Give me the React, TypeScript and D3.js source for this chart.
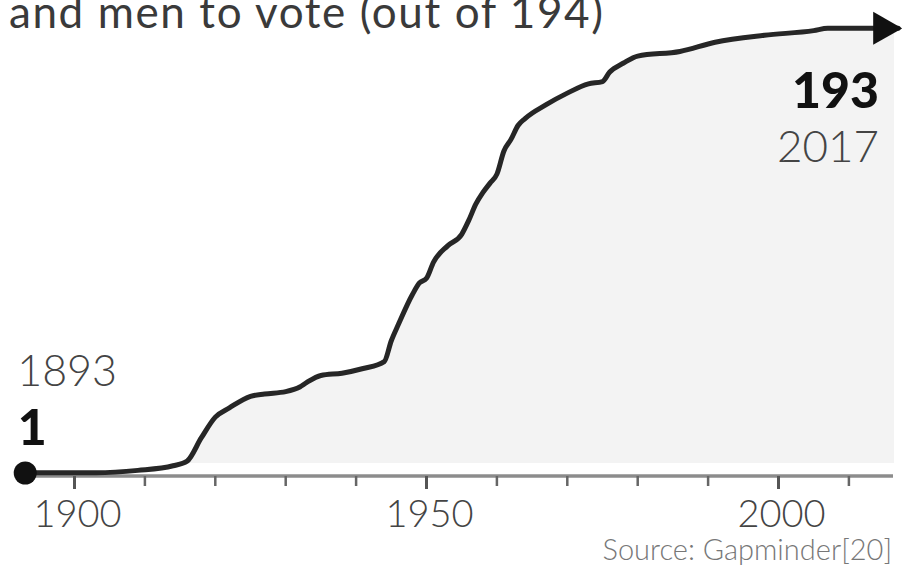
import React from "react";
import * as d3 from "d3";

const years = [1893, 1903, 1909, 1914, 1916, 1918, 1920, 1922, 1925, 1927, 1930, 1932, 1933, 1935, 1938, 1941, 1944, 1945, 1946, 1948, 1949, 1950, 1951, 1953, 1955, 1956, 1957, 1958, 1959, 1960, 1961, 1962, 1963, 1964, 1967, 1970, 1973, 1975, 1976, 1978, 1980, 1986, 1991, 1998, 2005, 2007, 2017];
const countries = [1, 1, 2, 4, 6, 16, 25, 29, 34, 35, 36, 38, 40, 43, 44, 46, 49, 58, 65, 78, 83, 85, 92, 99, 104, 110, 117, 122, 126, 130, 140, 145, 151, 154, 160, 165, 169, 170, 174, 178, 181, 183, 187, 190, 192, 193, 193];
const majorTicks = [1900, 1950, 2000];
const minorTicks = [1910, 1920, 1930, 1940, 1960, 1970, 1980, 1990, 2010];
const titleText = "and men to vote (out of 194)";
const sourceText = "Source: Gapminder[20]";

const W = 902;
const H = 572;
const FONT = "Lato, 'Open Sans', sans-serif";

export default function App() {
  const x = d3.scaleLinear().domain([1900, 2000]).range([74.5, 778.5]);
  const y = d3.scaleLinear().domain([0, 194]).range([475, 26]);
  const data = years.map((yr, i) => ({ yr, v: countries[i] }));

  const line = d3
    .line<{ yr: number; v: number }>()
    .x((d) => x(d.yr))
    .y((d) => y(d.v))
    .curve(d3.curveMonotoneX);
  const fillBottom = 463;
  const area = d3
    .area<{ yr: number; v: number }>()
    .x((d) => x(d.yr))
    .y0(fillBottom)
    .y1((d) => y(d.v))
    .curve(d3.curveMonotoneX);

  const axisY = 476;
  const first = data[0];
  const last = data[data.length - 1];
  const tipX = x(last.yr) + 4;
  const tipY = y(last.v);
  const arrow = `M${tipX},${tipY} L${tipX - 29},${tipY - 16.5} L${tipX - 29},${tipY + 16.5} Z`;

  return (
    <svg width={W} height={H} style={{ position: "absolute", left: 0, top: 0, background: "#fff" }}>
      <defs>
        <clipPath id="fillClip">
          <rect x={0} y={0} width={894} height={fillBottom} />
        </clipPath>
      </defs>
      <text x={9} y={28} fontFamily={FONT} fontSize={44} letterSpacing={1.6} fill="#3a3a3a">
        {titleText}
      </text>
      <path d={area(data) || ""} fill="#f3f3f3" clipPath="url(#fillClip)" />
      <line x1={20} x2={893} y1={axisY} y2={axisY} stroke="#8c8c8c" strokeWidth={3.5} />
      {minorTicks.map((t) => (
        <line key={t} x1={x(t)} x2={x(t)} y1={axisY} y2={axisY + 10} stroke="#666" strokeWidth={2.5} />
      ))}
      {majorTicks.map((t) => (
        <g key={t}>
          <line x1={x(t)} x2={x(t)} y1={axisY} y2={axisY + 13} stroke="#555" strokeWidth={3} />
          <text x={x(t) + 3} y={527} textAnchor="middle" fontFamily={FONT} fontWeight={300} fontSize={38} fill="#444">
            {t}
          </text>
        </g>
      ))}
      <path d={line(data) || ""} fill="none" stroke="#262626" strokeWidth={5} strokeLinejoin="round" strokeLinecap="round" />
      <path d={arrow} fill="#111" />
      <circle cx={x(first.yr)} cy={473} r={11.5} fill="#111" />
      <text x={x(first.yr) - 8} y={386} fontFamily={FONT} fontWeight={300} fontSize={43} fill="#444">
        {first.yr}
      </text>
      <text x={x(first.yr) + 7} y={445} textAnchor="middle" fontFamily={FONT} fontWeight={900} fontSize={50} fill="#111">
        {first.v}
      </text>
      <text x={879} y={108} textAnchor="end" fontFamily={FONT} fontWeight={900} fontSize={50} fill="#111">
        {last.v}
      </text>
      <text x={879} y={162} textAnchor="end" fontFamily={FONT} fontWeight={300} fontSize={44} fill="#444">
        {last.yr}
      </text>
      <text x={892} y={560} textAnchor="end" fontFamily={FONT} fontWeight={300} fontSize={29} fill="#777">
        {sourceText}
      </text>
    </svg>
  );
}
